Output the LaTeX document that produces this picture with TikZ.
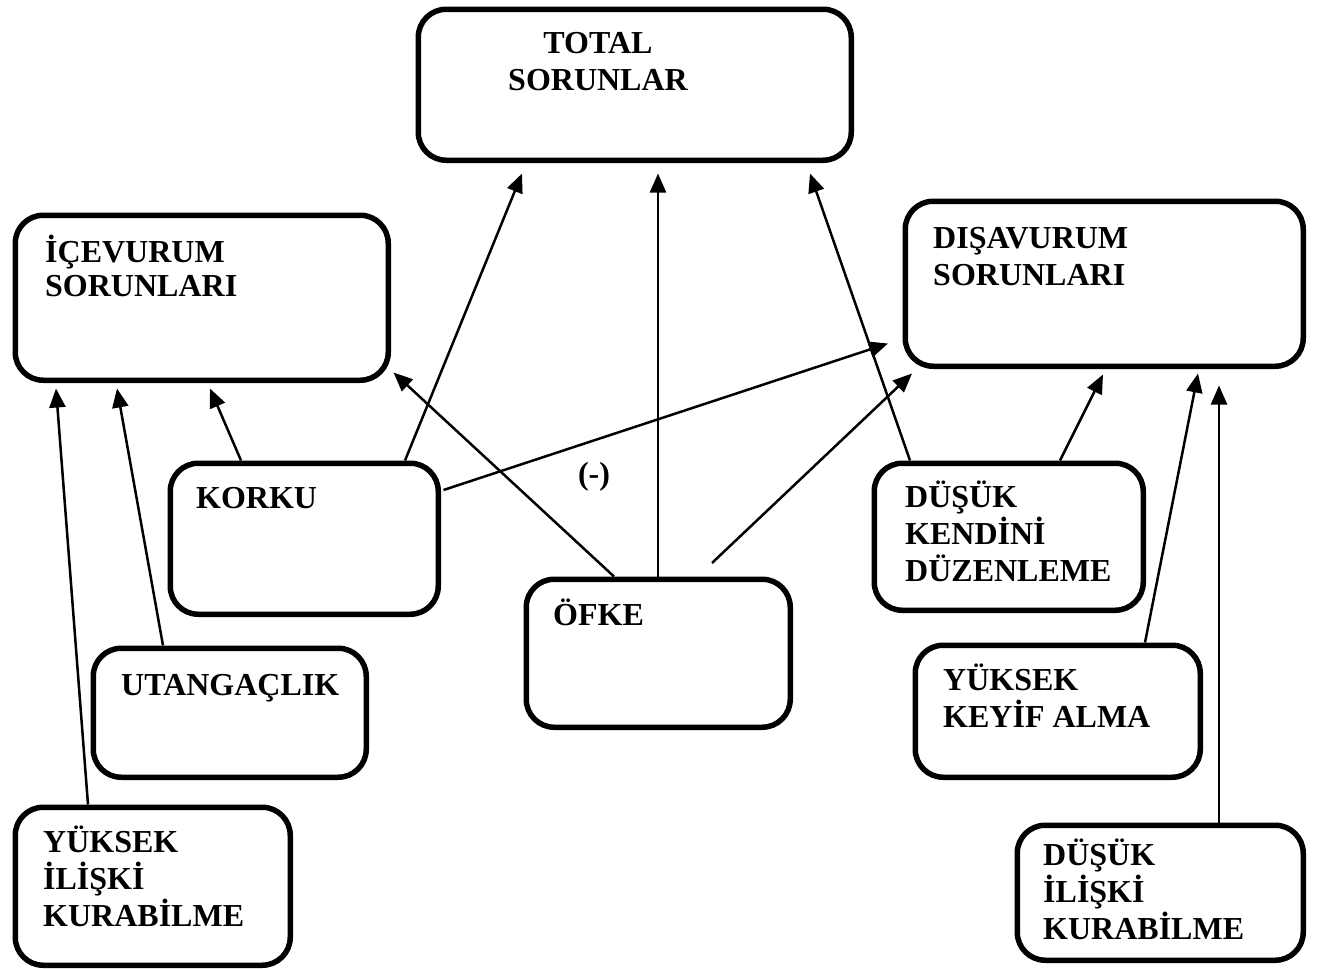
\documentclass[tikz,border=0pt]{standalone}
\usepackage{fontspec}
\setmainfont{Liberation Serif}
\usetikzlibrary{arrows.meta,calc}

\tikzset{
  box/.style={draw, line width=5.5pt, rounded corners=28pt, inner sep=0pt,
              anchor=north west, fill=none},
  txt/.style={anchor=north west, inner sep=0pt, align=left,
              font=\fontsize{32}{37}\selectfont\bfseries},
  arr/.style={line width=2.5pt, -{Triangle[length=19pt,width=16pt]}},
}
% first-line strut so every label's top lies 30pt above its first baseline
\newcommand{\firstline}{\rule{0pt}{30pt}}

\begin{document}
\begin{tikzpicture}[x=1pt,y=1pt]
  \useasboundingbox (0,0) rectangle (1318,-969);

  % boxes
  \node[box, minimum width=433pt, minimum height=151pt] (total) at (415.5,-6.5) {};
  \node[box, minimum width=373pt, minimum height=165pt] (ice)   at (12.5,-212.5) {};
  \node[box, minimum width=398pt, minimum height=165pt] (dis)   at (902.5,-198.5) {};
  \node[box, minimum width=268pt, minimum height=151pt] (korku) at (167.5,-460.5) {};
  \node[box, minimum width=264pt, minimum height=148pt] (ofke)  at (523.5,-576.5) {};
  \node[box, minimum width=269pt, minimum height=147pt] (dkd)   at (871.5,-460.5) {};
  \node[box, minimum width=273pt, minimum height=129pt] (utan)  at (90.5,-645.5) {};
  \node[box, minimum width=285pt, minimum height=132pt] (keyif) at (912.5,-642.5) {};
  \node[box, minimum width=275pt, minimum height=158pt] (yik)   at (12.5,-804.5) {};
  \node[box, minimum width=286pt, minimum height=135pt] (dik)   at (1014.5,-822.5) {};

  % labels
  \node[txt, anchor=north, align=center] (total-t) at (598,-23) {\firstline TOTAL\\SORUNLAR};
  \node[txt, font=\fontsize{32}{34}\selectfont\bfseries] (ice-t) at (45,-232) {\firstline İÇEVURUM\\SORUNLARI};
  \node[txt] (dis-t)   at (933,-218) {\firstline DIŞAVURUM\\SORUNLARI};
  \node[txt] (korku-t) at (196,-478) {\firstline KORKU};
  \node[txt] (ofke-t)  at (553,-595) {\firstline ÖFKE};
  \node[txt] (dkd-t)   at (905,-477) {\firstline DÜŞÜK\\KENDİNİ\\DÜZENLEME};
  \node[txt] (utan-t)  at (121,-665) {\firstline UTANGAÇLIK};
  \node[txt] (keyif-t) at (943,-660) {\firstline YÜKSEK\\KEYİF ALMA};
  \node[txt] (yik-t)   at (43,-822)  {\firstline YÜKSEK\\İLİŞKİ\\KURABİLME};
  \node[txt] (dik-t)   at (1043,-835) {\firstline DÜŞÜK\\İLİŞKİ\\KURABİLME};
  \node[font=\fontsize{32}{37}\selectfont\bfseries, inner sep=0pt] (neg) at (594,-477) {(-)};

  % connectors into TOTAL SORUNLAR
  \draw[arr] ($(korku.north west)+(237.5,0)$) -- ($(total.south west)+(106.5,-10.5)$);
  \draw[arr] ($(ofke.north west)+(134.5,0)$)  -- ($(total.south west)+(242.5,-10.5)$);
  \draw[arr] ($(dkd.north west)+(38.5,0)$)    -- ($(total.south west)+(394.5,-10.5)$);

  % connectors into İÇEVURUM SORUNLARI
  \draw[arr] ($(korku.north west)+(73.5,0)$)  -- ($(ice.south west)+(197.5,-5.5)$);
  \draw[arr] ($(ofke.north west)+(90.5,0)$)   -- ($(ice.south east)+(2.5,10.5)$);
  \draw[arr] ($(utan.north west)+(72.5,0)$)   -- ($(ice.south west)+(104.5,-5.5)$);
  \draw[arr] ($(yik.north west)+(75.5,0)$)    -- ($(ice.south west)+(43.5,-5.5)$);

  % connectors into DIŞAVURUM SORUNLARI
  \draw[arr] ($(korku.north east)+(2.5,-29.5)$) -- ($(dis.south west)+(-14.5,25.5)$);
  \draw[arr] ($(ofke.north west)+(188.5,13.5)$) -- ($(dis.south west)+(9.5,-4.5)$);
  \draw[arr] ($(dkd.north west)+(188.5,0)$)     -- ($(dis.south west)+(200.5,-5.5)$);
  \draw[arr] ($(keyif.north west)+(232.5,0)$)   -- ($(dis.south west)+(295.5,-4.5)$);
  \draw[arr] ($(dik.north west)+(204.5,0)$)     -- ($(dis.south west)+(316.5,-16.5)$);
\end{tikzpicture}
\end{document}
